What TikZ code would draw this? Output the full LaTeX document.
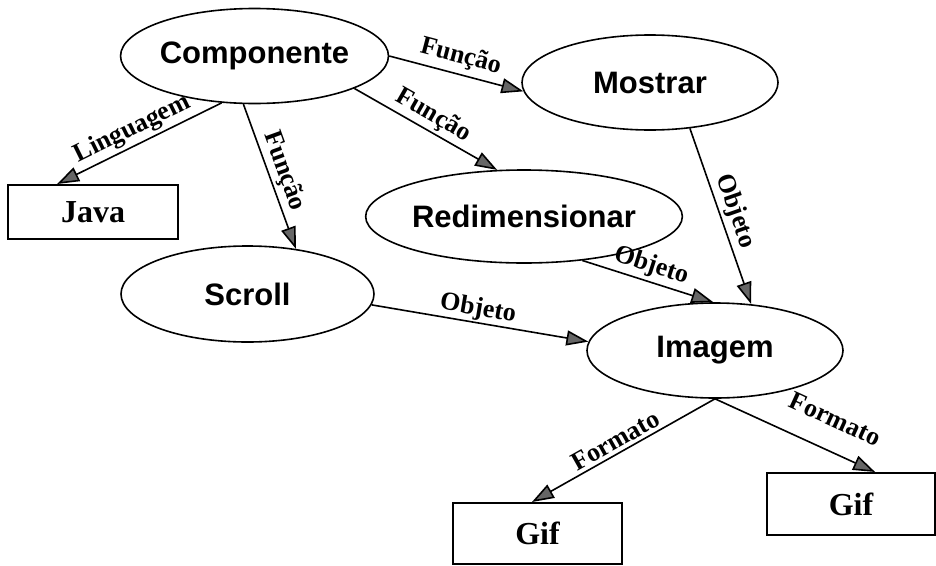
\documentclass[tikz,border=0pt]{standalone}
\usepackage{fontspec}
\setmainfont{Liberation Serif}
\setsansfont{Liberation Sans}
\usetikzlibrary{shapes.geometric,arrows.meta}

\begin{document}
\begin{tikzpicture}[x=1pt,y=-1pt,
  concept/.style={ellipse,draw,line width=1.6pt,inner sep=0pt,
    font=\sffamily\bfseries\fontsize{31}{35}\selectfont},
  valuebox/.style={rectangle,draw,line width=2pt,inner sep=0pt,
    font=\bfseries\fontsize{32}{36}\selectfont},
  rel/.style={line width=1.6pt,
    -{Triangle[length=22pt,width=15pt,fill=black!60]}},
  lbl/.style={sloped,above,inner sep=3pt,
    font=\bfseries\fontsize{26}{29}\selectfont}]

\useasboundingbox[fill=white] (0,0) rectangle (936,565);

% concepts
\node[concept,minimum width=253pt,minimum height=95pt] (comp)   at (254.5,56)  {Componente};
\node[concept,minimum width=256pt,minimum height=95pt] (mostrar) at (650,82.5) {Mostrar};
\node[concept,minimum width=258pt,minimum height=93pt] (redim)  at (524,216.5) {Redimensionar};
\node[concept,minimum width=253pt,minimum height=96pt] (scroll) at (247.5,294) {Scroll};
\node[concept,minimum width=256pt,minimum height=95pt] (imagem) at (715,350.5) {Imagem};

% values
\node[valuebox,minimum width=170pt,minimum height=54pt] (java) at (93,212)     {Java};
\node[valuebox,minimum width=169pt,minimum height=61pt] (gifa) at (537.5,533.5) {Gif};
\node[valuebox,minimum width=168pt,minimum height=62pt] (gifb) at (851,504)    {Gif};

% relations
\draw[rel] (comp.-125.5) -- node[lbl,pos=0.5] {Linguagem} (java.142.4);
\draw[rel] (comp.-103.7) -- node[lbl,pos=0.5] {Função} (scroll.43.3);
\draw[rel] (comp.-18.5)  -- node[lbl,pos=0.5] {Função} (redim.120.9);
\draw[rel] (comp.0)      -- node[lbl,pos=0.5,inner sep=5pt] {Função} (mostrar.184.7);
\draw[rel] (mostrar.-49.2) -- node[lbl,pos=0.5] {Objeto} (imagem.52.1);
\draw[rel] (redim.-37.2) -- node[lbl,pos=0.49] {Objeto} (imagem.92.4);
\draw[rel] (scroll.-5.6) -- node[lbl,pos=0.48,inner sep=1pt] {Objeto} (imagem.176.6);
\draw[rel] (imagem.south) -- node[lbl,pos=0.51] {Formato} (gifa.100.2);
\draw[rel] (imagem.south) -- node[lbl,pos=0.67,inner sep=22pt] {Formato} (gifb.53.1);

\end{tikzpicture}
\end{document}
